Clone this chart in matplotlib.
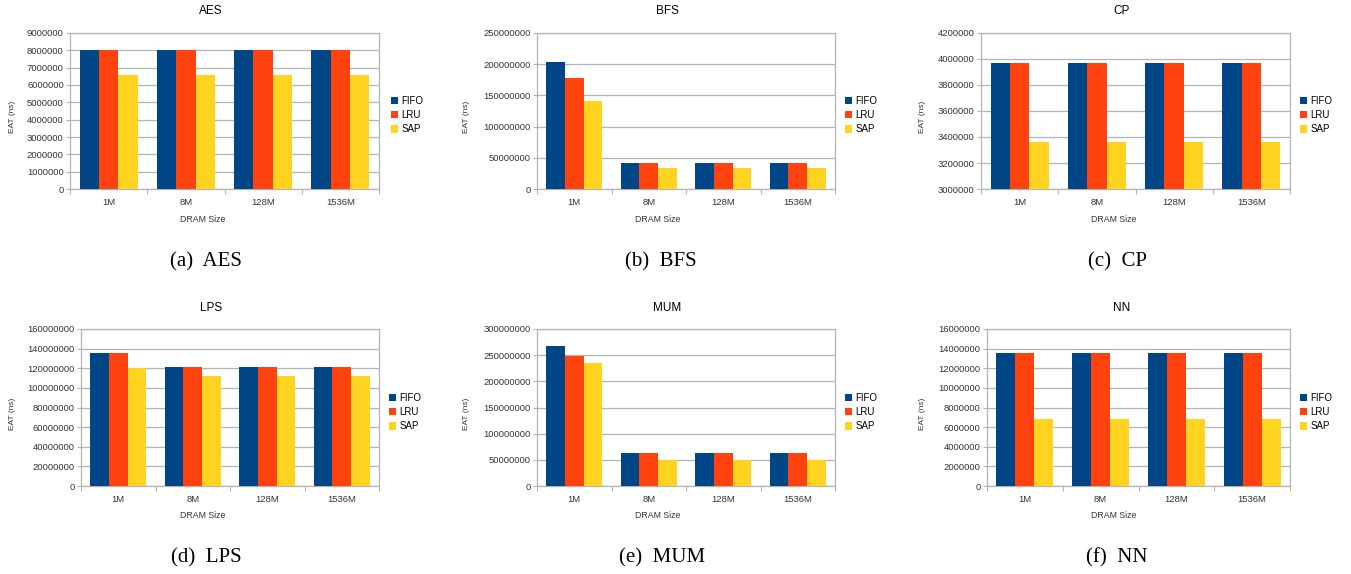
import matplotlib.pyplot as plt
from matplotlib.ticker import FixedLocator

W, H = 1351, 574

sizes = ["1M", "8M", "128M", "1536M"]
policies = ["FIFO", "LRU", "SAP"]
colors = ["#004586", "#ff420e", "#ffd320"]

aes_fifo = [8000000, 8000000, 8000000, 8000000]
aes_lru = [8000000, 8000000, 8000000, 8000000]
aes_sap = [6550000, 6550000, 6550000, 6550000]

bfs_fifo = [203000000, 41500000, 41500000, 41500000]
bfs_lru = [177500000, 41500000, 41500000, 41500000]
bfs_sap = [140500000, 33500000, 33500000, 33500000]

cp_fifo = [3967000, 3967000, 3967000, 3967000]
cp_lru = [3967000, 3967000, 3967000, 3967000]
cp_sap = [3361000, 3361000, 3361000, 3361000]

lps_fifo = [135800000, 121500000, 121500000, 121500000]
lps_lru = [135800000, 121500000, 121500000, 121500000]
lps_sap = [120500000, 112300000, 112300000, 112300000]

mum_fifo = [268000000, 63000000, 63000000, 63000000]
mum_lru = [249000000, 63000000, 63000000, 63000000]
mum_sap = [235500000, 50500000, 50500000, 50500000]

nn_fifo = [13580000, 13580000, 13580000, 13580000]
nn_lru = [13580000, 13580000, 13580000, 13580000]
nn_sap = [6840000, 6840000, 6840000, 6840000]

# name, caption, series, (ymin, ymax, step)
panels = [
    ("AES", "(a)  AES", [aes_fifo, aes_lru, aes_sap], (0, 9000000, 1000000)),
    ("BFS", "(b)  BFS", [bfs_fifo, bfs_lru, bfs_sap], (0, 250000000, 50000000)),
    ("CP", "(c)  CP", [cp_fifo, cp_lru, cp_sap], (3000000, 4200000, 200000)),
    ("LPS", "(d)  LPS", [lps_fifo, lps_lru, lps_sap], (0, 160000000, 20000000)),
    ("MUM", "(e)  MUM", [mum_fifo, mum_lru, mum_sap], (0, 300000000, 50000000)),
    ("NN", "(f)  NN", [nn_fifo, nn_lru, nn_sap], (0, 16000000, 2000000)),
]

# pixel layout per panel: axes left/right, title x, xlabel x, ylabel x, legend x, caption x
layout = [
    dict(ax=(70, 379), title=211, xl=203, yl=12, leg=391, cap=206),
    dict(ax=(537, 835), title=667, xl=658, yl=467, leg=845, cap=661),
    dict(ax=(981, 1290), title=1122, xl=1114, yl=923, leg=1300, cap=1117),
    dict(ax=(81, 379), title=211, xl=203, yl=12, leg=389, cap=206),
    dict(ax=(537, 835), title=667, xl=658, yl=467, leg=845, cap=662),
    dict(ax=(987, 1290), title=1122, xl=1114, yl=923, leg=1300, cap=1117),
]
rows = [
    dict(top=33, bottom=189, title=11, xl=219, leg=115, cap=262),
    dict(top=329, bottom=486, title=308, xl=516, leg=412, cap=558),
]

grid_col = "#b3b3b3"
plt.rcParams["font.family"] = ["Liberation Sans", "DejaVu Sans"]

fig = plt.figure(figsize=(W / 100, H / 100), dpi=100)


def fx(px):
    return px / W


def fy(py):
    return 1 - py / H


for i, (name, caption, series, (ymin, ymax, step)) in enumerate(panels):
    lo = layout[i]
    ro = rows[i // 3]
    left, right = lo["ax"]
    ax = fig.add_axes([fx(left), fy(ro["bottom"]), (right - left) / W,
                       (ro["bottom"] - ro["top"]) / H])
    x = range(len(sizes))
    for k, (vals, pol, col) in enumerate(zip(series, policies, colors)):
        ax.bar([xi + (k - 1) * 0.25 for xi in x], vals, width=0.25,
               color=col, label=pol, zorder=3)
    ax.set_xlim(-0.5, len(sizes) - 0.5)
    ax.set_ylim(ymin, ymax)
    ax.set_yticks(range(ymin, ymax + 1, step))
    ax.set_yticklabels([str(v) for v in range(ymin, ymax + 1, step)])
    ax.set_xticks(list(x))
    ax.set_xticklabels(sizes)
    ax.xaxis.set_minor_locator(FixedLocator([-0.5, 0.5, 1.5, 2.5, 3.5]))
    ax.tick_params(axis="x", which="major", length=0, pad=6.5, labelsize=6.8,
                   colors="#333333")
    ax.tick_params(axis="x", which="minor", length=3.5, width=0.8,
                   color=grid_col)
    ax.tick_params(axis="y", length=3, width=0.8, color=grid_col, pad=1.5,
                   labelsize=6.8, labelcolor="#333333")
    ax.grid(axis="y", color=grid_col, linewidth=0.9, zorder=0)
    for sp in ax.spines.values():
        sp.set_color(grid_col)
        sp.set_linewidth(0.9)

    fig.text(fx(lo["title"]), fy(ro["title"]), name, ha="center",
             va="center", fontsize=8.5)
    fig.text(fx(lo["xl"]), fy(ro["xl"]), "DRAM Size", ha="center",
             va="center", fontsize=6.3, color="#333333")
    fig.text(fx(lo["yl"]), fy((ro["top"] + ro["bottom"]) / 2 + 6), "EAT (ns)",
             ha="center", va="center", rotation=90, fontsize=6,
             color="#333333")
    fig.text(fx(lo["cap"]), fy(ro["cap"]), caption, ha="center",
             va="center", fontsize=15, family="Liberation Serif")
    fig.legend(*ax.get_legend_handles_labels(), loc="center left",
               bbox_to_anchor=(fx(lo["leg"]), fy(ro["leg"])), frameon=False,
               fontsize=7, handlelength=0.75, handleheight=0.75,
               handletextpad=0.3, labelspacing=0.45, borderpad=0,
               borderaxespad=0)

fig.savefig("out.png", dpi=100)
